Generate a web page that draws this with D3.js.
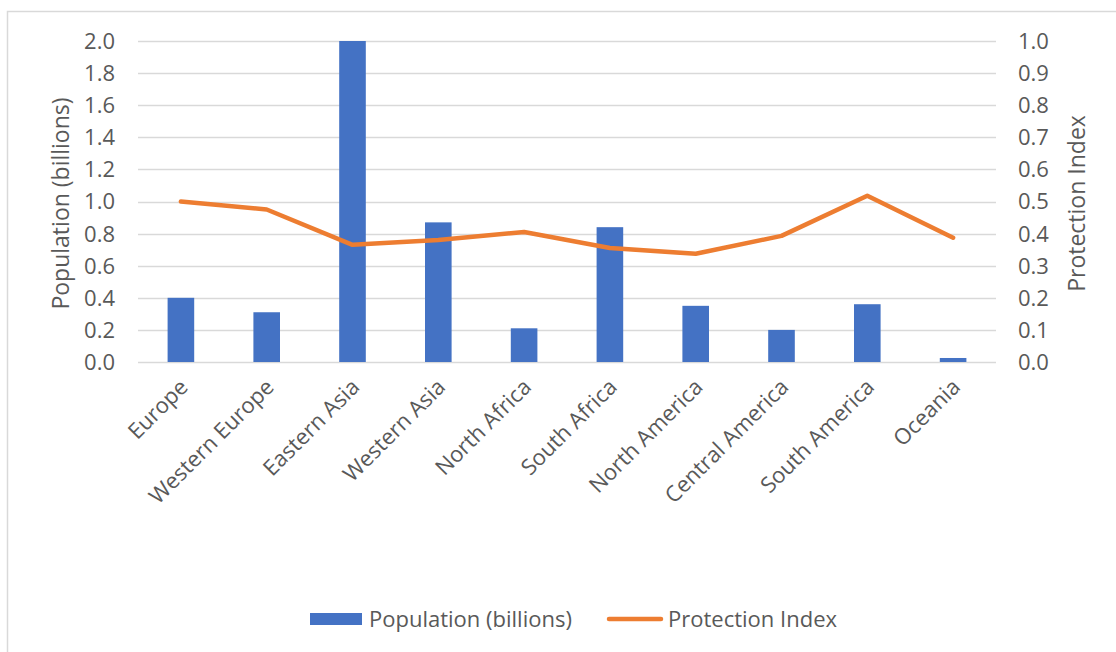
<!DOCTYPE html>
<html>
<head>
<meta charset="utf-8">
<script src="https://cdn.jsdelivr.net/npm/d3@7"></script>
<style>
  html, body { margin: 0; padding: 0; background: #fff; }
  svg { display: block; font-family: "Open Sans", "Noto Sans", sans-serif; }
</style>
</head>
<body>
<svg id="chart" width="1116" height="652"></svg>
<script>
const categories = ["Europe", "Western Europe", "Eastern Asia", "Western Asia", "North Africa",
  "South Africa", "North America", "Central America", "South America", "Oceania"];
const population = [0.40, 0.31, 2.00, 0.87, 0.21, 0.84, 0.35, 0.20, 0.36, 0.025];
const protectionIndex = [0.50, 0.475, 0.365, 0.38, 0.405, 0.355, 0.337, 0.393, 0.518, 0.387];
const leftTicks = [0, 0.2, 0.4, 0.6, 0.8, 1.0, 1.2, 1.4, 1.6, 1.8, 2.0];
const rightTicks = [0, 0.1, 0.2, 0.3, 0.4, 0.5, 0.6, 0.7, 0.8, 0.9, 1.0];
const seriesNames = ["Population (billions)", "Protection Index"];
const leftTitle = "Population (billions)";
const rightTitle = "Protection Index";

const W = 1116, H = 652;
const plot = { left: 138, right: 996, top: 41, bottom: 362 };
const blue = "#4472C4", orange = "#ED7D31", grid = "#D9D9D9", textCol = "#595959";
const fs = 22;

const svg = d3.select("#chart");

// outer frame (only top/left visible in the reference)
svg.append("rect").attr("x", 7.5).attr("y", 11.5).attr("width", W + 20).attr("height", H + 20)
  .attr("fill", "#fff").attr("stroke", "#D9D9D9").attr("stroke-width", 1.5);

const x = d3.scaleBand().domain(categories).range([plot.left, plot.right]).paddingInner(0.69).paddingOuter(0.345);
const yL = d3.scaleLinear().domain([0, 2]).range([plot.bottom, plot.top]);
const yR = d3.scaleLinear().domain([0, 1]).range([plot.bottom, plot.top]);

// gridlines
svg.append("g").selectAll("line").data(leftTicks).join("line")
  .attr("x1", plot.left).attr("x2", plot.right)
  .attr("y1", d => Math.round(yL(d)) + 0.5).attr("y2", d => Math.round(yL(d)) + 0.5)
  .attr("stroke", grid).attr("stroke-width", 1.5);

// left axis
const axL = svg.append("g").attr("transform", `translate(${plot.left - 23},0)`)
  .call(d3.axisLeft(yL).tickValues(leftTicks).tickFormat(d3.format(".1f")).tickSize(0).tickPadding(0));
axL.select(".domain").remove();
axL.selectAll("text").attr("fill", textCol).attr("font-size", fs).attr("font-family", "Open Sans").attr("dy", "0.34em");

// right axis
const axR = svg.append("g").attr("transform", `translate(${plot.right + 22},0)`)
  .call(d3.axisRight(yR).tickValues(rightTicks).tickFormat(d3.format(".1f")).tickSize(0).tickPadding(0));
axR.select(".domain").remove();
axR.selectAll("text").attr("fill", textCol).attr("font-size", fs).attr("font-family", "Open Sans").attr("dy", "0.34em");

// axis titles
svg.append("text").attr("transform", `translate(61,${(plot.top + plot.bottom) / 2 + 2}) rotate(-90)`)
  .attr("text-anchor", "middle").attr("dy", "0.35em").attr("fill", textCol).attr("font-size", 23)
  .text(leftTitle);
svg.append("text").attr("transform", `translate(1077,${(plot.top + plot.bottom) / 2 + 2}) rotate(-90)`)
  .attr("text-anchor", "middle").attr("dy", "0.35em").attr("fill", textCol).attr("font-size", 23)
  .text(rightTitle);

// bars
svg.append("g").selectAll("rect").data(categories).join("rect")
  .attr("x", d => x(d)).attr("width", x.bandwidth())
  .attr("y", (d, i) => yL(population[i])).attr("height", (d, i) => yL(0) - yL(population[i]))
  .attr("fill", blue);

// line
const line = d3.line().x((d, i) => x(categories[i]) + x.bandwidth() / 2).y(d => yR(d));
svg.append("path").datum(protectionIndex).attr("d", line)
  .attr("fill", "none").attr("stroke", orange).attr("stroke-width", 4.5)
  .attr("stroke-linejoin", "round").attr("stroke-linecap", "round");

// x labels
svg.append("g").selectAll("text").data(categories).join("text")
  .attr("transform", d => `translate(${x(d) + x.bandwidth() / 2 + 3},${plot.bottom + 21}) rotate(-45)`)
  .attr("text-anchor", "end").attr("dy", "0.35em")
  .attr("fill", textCol).attr("font-size", fs).text(d => d);

// legend
const lg = svg.append("g");
lg.append("rect").attr("x", 310).attr("y", 613).attr("width", 52).attr("height", 12).attr("fill", blue);
lg.append("text").attr("x", 369).attr("y", 619).attr("dy", "0.35em").attr("fill", textCol)
  .attr("font-size", fs).text(seriesNames[0]);
lg.append("line").attr("x1", 609).attr("x2", 661).attr("y1", 619).attr("y2", 619)
  .attr("stroke", orange).attr("stroke-width", 4.5).attr("stroke-linecap", "round");
lg.append("text").attr("x", 668).attr("y", 619).attr("dy", "0.35em").attr("fill", textCol)
  .attr("font-size", fs).text(seriesNames[1]);
</script>
</body>
</html>
